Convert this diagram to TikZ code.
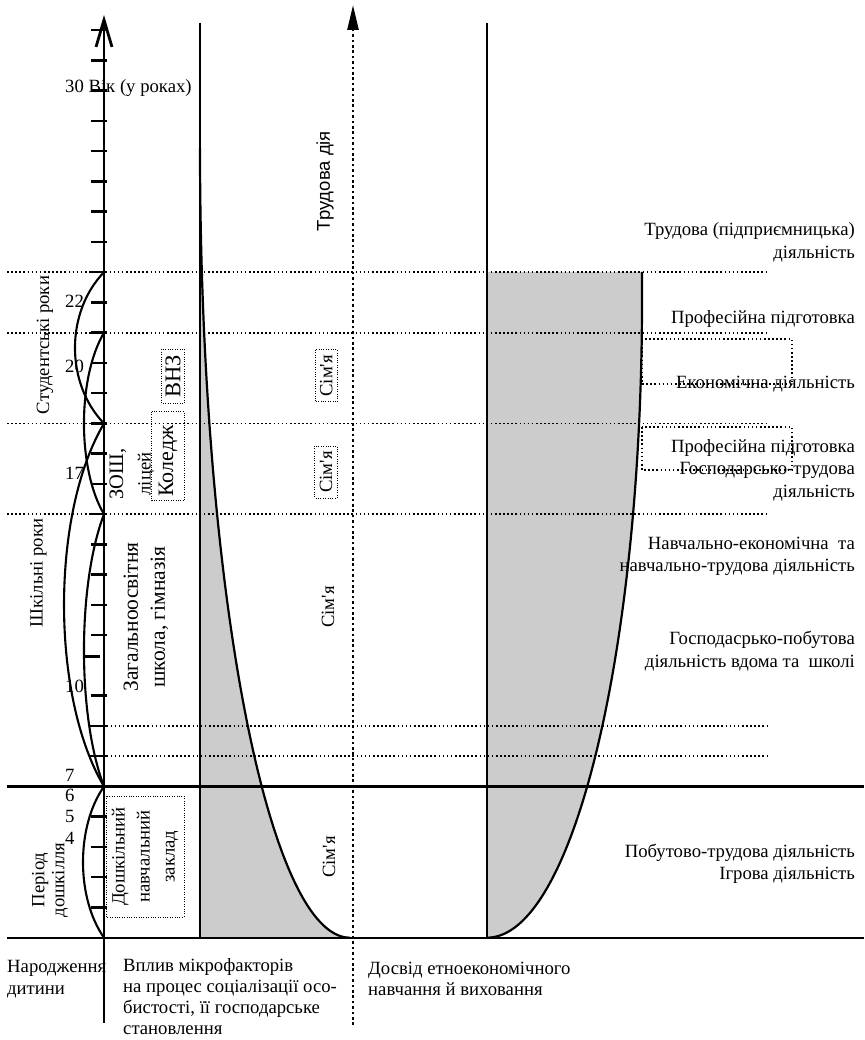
\documentclass[tikz,border=0pt]{standalone}
\usepackage{fontspec}
\setmainfont{Liberation Serif}
\setsansfont{Liberation Sans}
\usetikzlibrary{arrows.meta}

\begin{document}
\begin{tikzpicture}
		[x=1pt,y=-1pt,
		font=\fontsize{18.7}{22.5}\selectfont,
		ax/.style= {line width=2.8pt},
		ln/.style= {line width=2.2pt},
		dln/.style= {line width=1.6pt,dash pattern=on 1.6pt off 2.5pt},
		dbox/.style= {draw,line width=1pt,dash pattern=on 1pt off 1.4pt},
		brk/.style= {line width=2.1pt},
		tck/.style= {line width=2.5pt},
		grayfill/.style= {fill=black!20},
		vt/.style= {rotate=90,align=center,inner sep=0pt},
		rt/.style= {anchor=east,align=right,inner sep=0pt},
		lt/.style= {anchor=west,align=left,inner sep=0pt}]

		\useasboundingbox (0,0) rectangle (864,1040);

		% points of the age axis
		\foreach \n in {0,...,30}
			\coordinate (t\n) at (104,{937.7-30.25*\n});

		% shaded areas
		\fill[grayfill] (200,147.7) .. controls (200,584) and (267.2,937.7) .. (350,937.7)
			-- (200,937.7) -- cycle;
		\fill[grayfill] (487,272) -- (642,272) -- (642,300)
			.. controls (642,652) and (572.6,937.7) .. (487,937.7) -- cycle;

		% grid lines
		\foreach \y in {272.2,332.7,423.5,514.2}
			\draw[dln] (7,\y) -- (768,\y);
		\foreach \y in {725.9,756.2}
			\draw[dln] (90,\y) -- (768,\y);
		\draw[ln] (7,786.45) -- (864,786.45);
		\draw[ln] (7,937.7) -- (864,937.7);

		\draw[ln] (200,22.7) -- (200,937.7);
		\draw[ln] (487,22.7) -- (487,937.7);
		\draw[ln] (200,147.7) .. controls (200,584) and (267.2,937.7) .. (350,937.7);
		\draw[ln] (642,272) -- (642,300)
			.. controls (642,652) and (572.6,937.7) .. (487,937.7);

		\draw[dln] (642,339) rectangle (792,384);
		\draw[dln] (642,427) rectangle (792,470);

		% axes
		\draw[line width=2.6pt,dash pattern=on 2.6pt off 2.8pt,
			-{Triangle[length=25pt,width=11pt]}] (353,1025) -- (353,5);
		\draw[ax,-{Straight Barb[length=27pt,width=16pt]}] (104,1022.7) -- (104,15);

		\foreach \n in {1,...,8,10,11,...,30}
			\draw[tck] (t\n) ++(-13,0) -- ++(15.5,0);
		\draw[tck] (85,656.7) -- (100,656.7);

		% age periods
		\draw[brk] (t22) .. controls +(-38.7,40) and +(-38.7,-40) .. (t17);
		\draw[brk] (t20) .. controls +(-26.7,45) and +(-26.7,-45) .. (t14);
		\draw[brk] (t17) .. controls +(-53.3,90) and +(-53.3,-90) .. (t5);
		\draw[brk] (t14) .. controls +(-26.7,70) and +(-26.7,-70) .. (t5);
		\draw[brk] (t5) .. controls +(-28,40) and +(-28,-40) .. (t0);

		% axis labels
		\node[lt] (age) at (65,88) {30 Вік (у роках)};
		\node[lt] (a22) at (65,301.7) {22};
		\node[lt] (a20) at (65,366.7) {20};
		\node[lt] (a17) at (65,473) {17};
		\node[lt] (a10) at (65,686.7) {10};
		\node[lt] (a7) at (65,775) {7};
		\node[lt] (a6) at (65,795.7) {6};
		\node[lt] (a5) at (65,816.7) {5};
		\node[lt] (a4) at (65,838.3) {4};

		\node[vt] (stud) at (45,345) {Студентські роки};
		\node[vt] (shk) at (38.5,573) {Шкільні роки};
		\node[vt,font=\fontsize{18.7}{20}\selectfont] (dosh) at (50,880) {Період\\дошкілля};

		% institutions
		\node[vt] (zosh) at (132,474) {{\fontsize{20.5}{22}\selectfont ЗОШ,}\\[5pt]ліцей};
		\node[vt,dbox,minimum width=54pt,minimum height=22.6pt,
			font=\fontsize{22.5}{24}\selectfont] (vnz) at (173,376.3) {ВНЗ};
		\node[vt,dbox,minimum height=32.6pt,text width=81pt,inner xsep=4pt,align=left,
			font=\fontsize{22}{24}\selectfont] (kol) at (168,456.2) {Коледж};
		\node[vt,font=\fontsize{21.5}{27}\selectfont] (zag) at (146,617)
			{Загальноосвітня\\школа, гімназія};
		\node[vt,dbox,minimum width=121pt,minimum height=78pt,
			font=\fontsize{18.7}{25}\selectfont] (dnz) at (145,856.5)
			{Дошкільний\\навчальний\\заклад};

		% family
		\node[vt,dbox,minimum width=52pt,minimum height=22.3pt] (sim1) at (326.2,375.9)
			{Сім\textquotesingle я};
		\node[vt,dbox,minimum width=52pt,minimum height=22.3pt] (sim2) at (326,472)
			{Сім\textquotesingle я};
		\node[vt] (sim3) at (328,607) {Сім\textquotesingle я};
		\node[vt] (sim4) at (329,857) {Сім\textquotesingle я};

		\node[vt,font=\sffamily\fontsize{18.5}{22}\selectfont] (trud) at (325,181) {Трудова дія};

		% activities
		\node[rt] (r1) at (855,242.5) {Трудова (підприємницька)\\діяльність};
		\node[rt] (r2) at (855,319) {Професійна підготовка};
		\node[rt] (r3) at (855,384) {Економічна діяльність};
		\node[rt] (r4) at (855,470) {Професійна підготовка\\Господарсько-трудова\\діяльність};
		\node[rt] (r5) at (855,556.5) {Навчально-економічна\ \ та\\навчально-трудова діяльність};
		\node[rt] (r6) at (855,651) {Господасрько-побутова\\діяльність вдома та\ \ школі};
		\node[rt] (r7) at (855,864) {Побутово-трудова діяльність\\Ігрова діяльність};

		% bottom captions
		\node[lt,font=\fontsize{18.7}{21.5}\selectfont] (birth) at (7,979) {Народження\\дитини};
		\node[lt,font=\fontsize{18.7}{21}\selectfont] (micro) at (123,996.5)
			{Вплив мікрофакторів\\на процес соціалізації осо-\\бистості, її господарське\\становлення};
		\node[lt,font=\fontsize{18.7}{21.5}\selectfont] (ethno) at (368,979)
			{Досвід етноекономічного\\навчання й виховання};

	\end{tikzpicture}
\end{document}
